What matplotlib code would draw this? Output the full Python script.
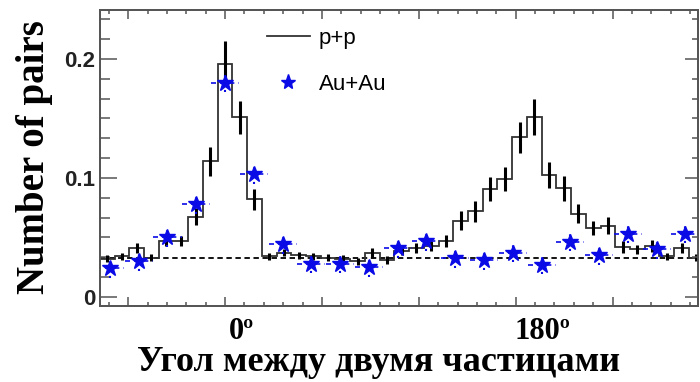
import numpy as np
import matplotlib.pyplot as plt
from matplotlib.ticker import MultipleLocator
from matplotlib.lines import Line2D
import matplotlib.transforms as mtransforms

# p+p histogram: bin index (bin width in rad), contents and errors
pp_bin = 0.152
pp_k = np.arange(-8, 33)
pp_vals = [0.032, 0.034, 0.041, 0.033, 0.047, 0.047, 0.0675, 0.114, 0.196, 0.151,
           0.082, 0.034, 0.037, 0.035, 0.034, 0.033, 0.032, 0.030, 0.037, 0.031,
           0.039, 0.041, 0.043, 0.047, 0.064, 0.072, 0.0905, 0.099, 0.134, 0.1515,
           0.1025, 0.0915, 0.070, 0.058, 0.060, 0.042, 0.040, 0.043, 0.034, 0.041,
           0.033]
pp_errs = [0.003, 0.003, 0.004, 0.003, 0.004, 0.004, 0.007, 0.012, 0.019, 0.014,
           0.009, 0.003, 0.003, 0.003, 0.003, 0.003, 0.003, 0.003, 0.004, 0.003,
           0.004, 0.004, 0.004, 0.005, 0.008, 0.009, 0.010, 0.010, 0.013, 0.015,
           0.011, 0.0105, 0.008, 0.006, 0.007, 0.005, 0.004, 0.005, 0.003, 0.004,
           0.003]

# Au+Au points
au_step = 0.297
au_k = np.arange(-4, 17)
au_vals = [0.024, 0.030, 0.050, 0.078, 0.180, 0.103, 0.0445, 0.028, 0.028, 0.025,
           0.041, 0.047, 0.0325, 0.031, 0.037, 0.027, 0.0465, 0.035, 0.053, 0.040,
           0.053]
au_errs = [0.008] * 21

baseline = 0.033

pp_x = pp_k * pp_bin
pp_edges = (np.arange(pp_k[0], pp_k[-1] + 2) - 0.5) * pp_bin
au_x = au_k * au_step
pp_vals = np.array(pp_vals)
pp_errs = np.array(pp_errs)
au_vals = np.array(au_vals)
au_errs = np.array(au_errs)

fig = plt.figure(figsize=(7, 3.82), dpi=100)
ax = fig.add_axes([0.1429, 0.199, 0.854, 0.775])

ax.axhline(baseline, color='black', lw=1.3, ls=(0, (3, 2)), zorder=1)
ax.stairs(pp_vals, pp_edges, baseline=None, color='#333333', lw=1.3, zorder=2)
ax.vlines(pp_x, pp_vals - pp_errs, pp_vals + pp_errs, color='black', lw=2.2, zorder=3)

blue = '#0a0ae6'
ax.hlines(au_vals, au_x - 0.145, au_x + 0.145, color=blue, lw=1.2,
          linestyles=(0, (3, 2.5)), zorder=4)
ax.vlines(au_x, au_vals - au_errs, au_vals + au_errs, color=blue, lw=1.5,
          linestyles=(0, (1, 2.5)), zorder=4)
ax.plot(au_x, au_vals, ls='none', marker='*', ms=12, color=blue, mec=blue, zorder=5)

ax.set_xlim(-1.29, 4.88)
ax.set_ylim(-0.0076, 0.2412)

ax.xaxis.set_major_locator(MultipleLocator(1))
ax.xaxis.set_minor_locator(MultipleLocator(0.2))
ax.yaxis.set_major_locator(MultipleLocator(0.1))
ax.yaxis.set_minor_locator(MultipleLocator(0.1 / 6))
ax.set_yticks([0, 0.1, 0.2])
ax.set_yticklabels(['0', '0.1', '0.2'])

ax.tick_params(axis='x', which='both', direction='in', top=True, bottom=True,
               labelbottom=False, color='#555555', width=1.1)
ax.tick_params(axis='x', which='major', length=6.2)
ax.tick_params(axis='x', which='minor', length=3)
ax.tick_params(axis='y', which='both', direction='in', right=False, color='#555555',
               width=1.1, pad=3.5)
ax.tick_params(axis='y', which='major', length=12)
ax.tick_params(axis='y', which='minor', length=7)
for lab in ax.get_yticklabels():
    lab.set_family('Liberation Sans')
    lab.set_fontweight('bold')
    lab.set_fontsize(16)
    lab.set_color('#222222')

ax2 = ax.twinx()
ax2.set_ylim(ax.get_ylim())
ax2.yaxis.set_major_locator(MultipleLocator(0.1))
ax2.yaxis.set_minor_locator(MultipleLocator(0.1 / 6))
ax2.tick_params(axis='y', which='both', direction='in', labelright=False,
                color='#555555', width=1.1)
ax2.tick_params(axis='y', which='major', length=9.4)
ax2.tick_params(axis='y', which='minor', length=4)

for a in (ax, ax2):
    for s in a.spines.values():
        s.set_color('#555555')
        s.set_linewidth(1.3)

leg_handles = [Line2D([], [], color='#333333', lw=1.3),
               Line2D([], [], ls='none', marker='*', ms=11, color=blue)]
leg = ax.legend(leg_handles, ['p+p', 'Au+Au'], loc='upper left',
                bbox_to_anchor=(0.279, 0.94), frameon=False, borderpad=0,
                borderaxespad=0, handlelength=1.95, handletextpad=0.4,
                labelspacing=1.15, prop={'family': 'Liberation Sans', 'size': 16})

trans = mtransforms.blended_transform_factory(ax.transData, fig.transFigure)
ax.text(0.17, 0.1126, '0º', transform=trans, ha='center', va='baseline',
        fontsize=22, fontweight='bold', family='Liberation Serif')
ax.text(3.28, 0.1126, '180º', transform=trans, ha='center', va='baseline',
        fontsize=22, fontweight='bold', family='Liberation Serif')

fig.text(0.541, 0.03, 'Угол между двумя частицами', ha='center', va='baseline',
         fontsize=26, fontweight='bold', family='Liberation Serif')
fig.text(0.049, 0.589, 'Number of pairs', rotation=90, ha='center', va='center',
         fontsize=28, fontweight='bold', family='Liberation Serif')

fig.savefig('out.png', dpi=100)
